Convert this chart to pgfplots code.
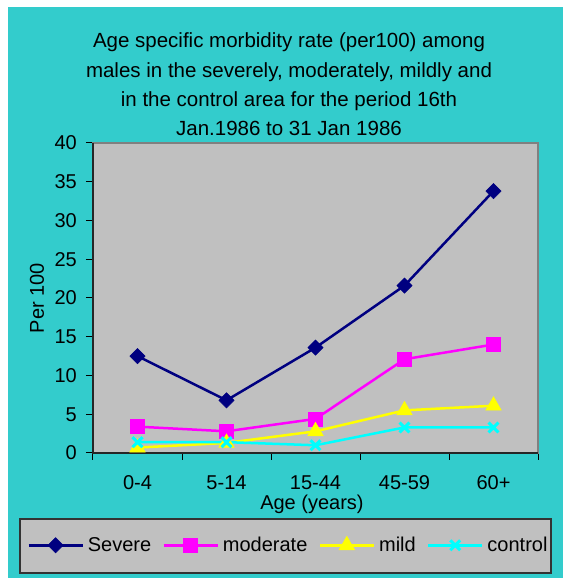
\documentclass[border=0pt]{standalone}
\usepackage{pgfplots}
\pgfplotsset{compat=1.18}
\usepackage{fontspec}
\setmainfont{Liberation Sans}
\definecolor{bgteal}{HTML}{33CCCC}
\definecolor{plotgray}{HTML}{C0C0C0}
\definecolor{sevnavy}{HTML}{000080}
\definecolor{modmag}{HTML}{FF00FF}
\definecolor{mildyel}{HTML}{FFFF00}
\definecolor{ctrlcyan}{HTML}{00FFFF}

\begin{document}
\begin{tikzpicture}[x=1pt,y=1pt]
% page and chart area
\fill[white] (0,0) rectangle (563,578);
\fill[bgteal] (8,0) rectangle (563,571);
% legend box
\filldraw[fill=plotgray,draw=black!80,line width=1.2pt] (20,5) rectangle (551,59);
% title
\begin{scope}[every node/.style={anchor=base,font=\fontsize{20.5}{24}\selectfont,inner sep=0pt}]
\node at (289,530) {Age specific morbidity rate (per100) among};
\node at (289,500.7) {males in the severely, moderately, mildly and};
\node at (289,471) {in the control area for the period 16th};
\node at (289,442) {Jan.1986 to 31 Jan 1986};
\end{scope}
\begin{axis}[
    at={(93pt,125pt)}, anchor=south west,
    scale only axis,
    width=445pt, height=310pt,
    xmin=-0.5, xmax=4.5,
    ymin=0, ymax=40,
    xtick={0,1,2,3,4},
    xticklabels={0-4,5-14,15-44,45-59,60+},
    minor xtick={-0.5,0.5,1.5,2.5,3.5,4.5},
    ytick={0,5,...,40},
    xtick pos=bottom, ytick pos=left,
    major x tick style={draw=none},
    tick align=outside,
    major tick length=7pt,
    minor tick length=7pt,
    tick style={black, line width=1pt},
    axis background/.style={fill=plotgray},
    axis line style={draw=black!50, line width=1.5pt},
    /pgf/number format/assume math mode=true,
    ticklabel style={font=\fontsize{20}{24}\selectfont, inner sep=0pt},
    xticklabel style={anchor=base, yshift=-30pt},
    yticklabel style={anchor=east, xshift=-9pt},
    xlabel={Age (years)},
    ylabel={Per 100},
    label style={font=\fontsize{20}{24}\selectfont, inner sep=0pt},
    xlabel style={at={(axis description cs:0.492,-0.183)}, anchor=base},
    ylabel style={at={(axis description cs:-0.126,0.5)}, anchor=center, rotate=0},
    legend columns=4,
    legend style={at={(axis description cs:-0.148,-0.296)}, anchor=west,
        draw=none, fill=none, inner sep=0pt,
        font=\fontsize{20}{24}\selectfont,
        column sep=4pt,
        /tikz/every even column/.append style={column sep=11.2pt},
        nodes={inner sep=0pt, anchor=west}},
    legend image code/.code={\draw[mark repeat=2,mark phase=2] plot coordinates {(0pt,0pt) (27pt,0pt) (54pt,0pt)};},
    clip=false,
]
\addplot[color=sevnavy, line width=2.5pt, mark=square*, mark size=5.4pt, mark options={solid,rotate=45,line width=0.5pt}] coordinates {
  (0,12.5) (1,6.8) (2,13.6) (3,21.6) (4,33.8)
};
\addlegendentry{Severe}
\addplot[color=modmag, line width=2.5pt, mark=square*, mark size=7pt, mark options={solid,line width=0.5pt}] coordinates {
  (0,3.4) (1,2.8) (2,4.4) (3,12.1) (4,14.0)
};
\addlegendentry{moderate}
\addplot[color=mildyel, line width=2.5pt, mark=triangle*, mark size=9pt, mark options={solid,line width=0.5pt}] coordinates {
  (0,0.7) (1,1.3) (2,2.8) (3,5.5) (4,6.1)
};
\addlegendentry{mild}
\addplot[color=ctrlcyan, line width=2.5pt, mark=x, mark size=7pt, mark options={solid,line width=3pt}] coordinates {
  (0,1.4) (1,1.4) (2,1.0) (3,3.3) (4,3.3)
};
\addlegendentry{control}
% left and bottom axis lines are darker than the frame
\draw[black!85, line width=1.5pt] (axis description cs:0,1) -- (axis description cs:0,0) -- (axis description cs:1,0);
\end{axis}
\end{tikzpicture}
\end{document}
